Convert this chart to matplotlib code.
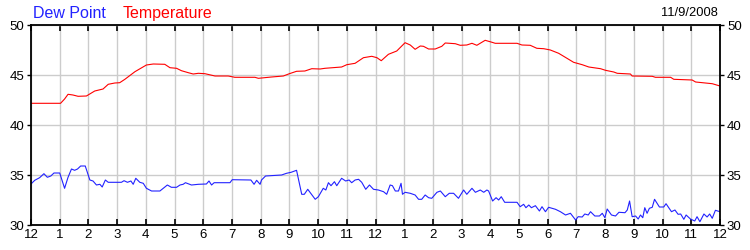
import matplotlib
matplotlib.use('Agg')
import matplotlib.pyplot as plt

# horas desde a meia-noite e leituras da temperatura
temp_h = [0, 1.03, 1.17, 1.29, 1.46, 1.64, 1.93, 2.22, 2.51, 2.69, 2.92, 3.09, 3.27, 3.62,
          4.02, 4.26, 4.66, 4.84, 5.07, 5.24, 5.48, 5.65, 5.83, 6.06, 6.41, 6.87, 7.10,
          7.80, 7.92, 8.38, 8.79, 9.0, 9.25, 9.54, 9.78, 10.07, 10.24, 10.82, 11.0, 11.29,
          11.58, 11.87, 12.05, 12.2, 12.45, 12.74, 13.03, 13.21, 13.38, 13.56, 13.67, 13.85,
          14.08, 14.31, 14.43, 14.78, 14.95, 15.18, 15.36, 15.53, 15.82, 16.06, 16.17, 16.93,
          17.1, 17.39, 17.62, 17.86, 18.09, 18.38, 18.67, 18.9, 19.2, 19.43, 19.84, 20.01,
          20.3, 20.42, 20.88, 20.94, 21.64, 21.75, 22.28, 22.39, 23.03, 23.15, 23.73, 24.0]
temp_v = [42.17, 42.17, 42.6, 43.07, 43.0, 42.87, 42.9, 43.4, 43.6, 44.07, 44.2, 44.23, 44.57, 45.33,
          46.0, 46.1, 46.07, 45.73, 45.67, 45.43, 45.23, 45.1, 45.17, 45.13, 44.9, 44.9, 44.77,
          44.77, 44.67, 44.8, 44.9, 45.13, 45.37, 45.4, 45.63, 45.6, 45.67, 45.8, 46.03, 46.17,
          46.73, 46.87, 46.73, 46.43, 47.07, 47.4, 48.23, 48.0, 47.57, 47.9, 47.87, 47.6,
          47.6, 47.87, 48.2, 48.13, 47.97, 48.0, 48.17, 47.97, 48.47, 48.27, 48.17, 48.17,
          48.0, 47.97, 47.67, 47.63, 47.5, 47.17, 46.67, 46.27, 46.03, 45.8, 45.63, 45.47,
          45.3, 45.17, 45.1, 44.9, 44.87, 44.77, 44.77, 44.57, 44.5, 44.3, 44.13, 43.9]

# leituras do ponto de orvalho
dew_h = [0, 0.13, 0.3, 0.45, 0.57, 0.69, 0.8, 1.0, 1.06, 1.17, 1.29, 1.41, 1.52, 1.62, 1.73,
         1.89, 2.05, 2.16, 2.28, 2.4, 2.48, 2.59, 2.69, 3.15, 3.24, 3.36, 3.48, 3.56, 3.65,
         3.79, 3.91, 4.02, 4.2, 4.49, 4.66, 4.75, 4.89, 5.07, 5.19, 5.3, 5.38, 5.59, 5.83,
         6.11, 6.2, 6.29, 6.38, 6.93, 7.01, 7.66, 7.77, 7.86, 7.98, 8.03, 8.17, 8.73, 8.9,
         9.06, 9.25, 9.43, 9.52, 9.64, 9.9, 10.01, 10.18, 10.27, 10.36, 10.45, 10.57, 10.65,
         10.82, 10.96, 11.08, 11.17, 11.29, 11.41, 11.52, 11.66, 11.79, 11.93, 12.1, 12.28,
         12.39, 12.51, 12.59, 12.69, 12.8, 12.89, 12.94, 13.03, 13.21, 13.38, 13.5, 13.61,
         13.73, 13.85, 13.96, 14.14, 14.26, 14.43, 14.57, 14.72, 14.89, 15.07, 15.18, 15.36,
         15.48, 15.65, 15.77, 15.88, 15.94, 16.08, 16.2, 16.29, 16.38, 16.5, 16.93, 17.04,
         17.16, 17.24, 17.34, 17.43, 17.57, 17.71, 17.8, 17.92, 18.03, 18.15, 18.27, 18.44,
         18.62, 18.79, 18.97, 19.06, 19.2, 19.29, 19.41, 19.49, 19.64, 19.8, 19.9, 19.99,
         20.07, 20.22, 20.36, 20.48, 20.69, 20.77, 20.85, 20.94, 21.06, 21.15, 21.23, 21.31,
         21.38, 21.46, 21.54, 21.64, 21.72, 21.89, 22.04, 22.12, 22.31, 22.43, 22.54, 22.63,
         22.74, 22.82, 22.97, 23.12, 23.2, 23.3, 23.44, 23.55, 23.64, 23.73, 23.84, 24.0]
dew_v = [34.1, 34.47, 34.73, 35.13, 34.77, 34.9, 35.2, 35.2, 34.67, 33.67, 34.77, 35.6, 35.47, 35.6, 35.9,
         35.9, 34.5, 34.4, 34.0, 34.07, 33.8, 34.5, 34.27, 34.27, 34.43, 34.27, 34.4, 34.07, 34.67,
         34.27, 34.17, 33.67, 33.4, 33.4, 33.8, 34.0, 33.77, 33.77, 34.0, 34.07, 34.23, 34.0, 34.07,
         34.1, 34.4, 34.0, 34.23, 34.23, 34.53, 34.5, 34.07, 34.47, 34.07, 34.5, 34.9, 35.0, 35.17,
         35.27, 35.47, 33.07, 33.07, 33.57, 32.57, 32.83, 33.67, 33.5, 34.23, 33.93, 34.33, 33.93,
         34.67, 34.4, 34.5, 34.23, 34.5, 34.57, 34.27, 33.57, 34.0, 33.57, 33.5, 33.33,
         33.07, 34.0, 33.93, 33.4, 33.4, 34.17, 33.07, 33.27, 33.17, 33.0, 32.57, 32.57,
         33.0, 32.73, 32.67, 33.27, 33.4, 32.83, 33.17, 33.17, 32.67, 33.5, 33.07, 33.67,
         33.27, 33.5, 33.27, 33.5, 33.4, 32.4, 32.73, 32.5, 32.83, 32.27, 32.27, 31.83,
         32.07, 31.73, 32.0, 31.73, 31.93, 31.4, 31.83, 31.33, 31.77, 31.67, 31.57, 31.33,
         31.0, 31.17, 30.5, 30.83, 30.8, 31.1, 31.0, 31.33, 30.9, 30.9, 31.17, 30.73,
         31.6, 31.0, 30.9, 31.27, 31.23, 31.5, 32.4, 30.83, 30.9, 30.6, 31.0, 30.73,
         31.73, 31.17, 31.67, 31.77, 32.57, 31.8, 31.8, 32.13, 31.33, 31.5, 31.07, 31.1,
         30.57, 31.0, 30.6, 30.4, 30.83, 30.33, 31.1, 30.8, 31.1, 30.67, 31.47, 31.33]

hora_ticks = list(range(25))
hora_labels = ['12', '1', '2', '3', '4', '5', '6', '7', '8', '9', '10', '11',
               '12', '1', '2', '3', '4', '5', '6', '7', '8', '9', '10', '11', '12']
y_ticks = [30, 35, 40, 45, 50]

plt.rcParams['font.family'] = ['Liberation Sans', 'DejaVu Sans']

fig = plt.figure(figsize=(7.5, 2.5), dpi=100)
ax = fig.add_axes([31/750, 0.10, 689/750, 0.80])

ax.plot(temp_h, temp_v, color='#ff0000', linewidth=0.8)
ax.plot(dew_h, dew_v, color='#2222ff', linewidth=0.8)

ax.set_xlim(0, 24)
ax.set_ylim(30, 50)
ax.set_xticks(hora_ticks)
ax.set_xticklabels(hora_labels)
ax.set_yticks(y_ticks)

# grade cinza clara
ax.grid(True, color='#cccccc', linewidth=1.0)
ax.set_axisbelow(True)

for s in ax.spines.values():
    s.set_linewidth(1.3)
    s.set_color('black')

ax.tick_params(axis='x', direction='in', top=True, bottom=True, length=4, width=1.2,
               labelsize=9.5, pad=3)
ax.tick_params(axis='y', direction='out', left=True, right=True, labelleft=True,
               labelright=True, length=3, width=1, labelsize=9.5, pad=2)

# titulos no topo
fig.text(33/750, 1 - 18/250, 'Dew Point', color='#2222ff', fontsize=11.5, ha='left', va='baseline')
fig.text(123/750, 1 - 18/250, 'Temperature', color='#ff0000', fontsize=11.5, ha='left', va='baseline')
fig.text(718/750, 1 - 16/250, '11/9/2008', color='black', fontsize=9.3, ha='right', va='baseline')

fig.savefig('out.png', dpi=100)
